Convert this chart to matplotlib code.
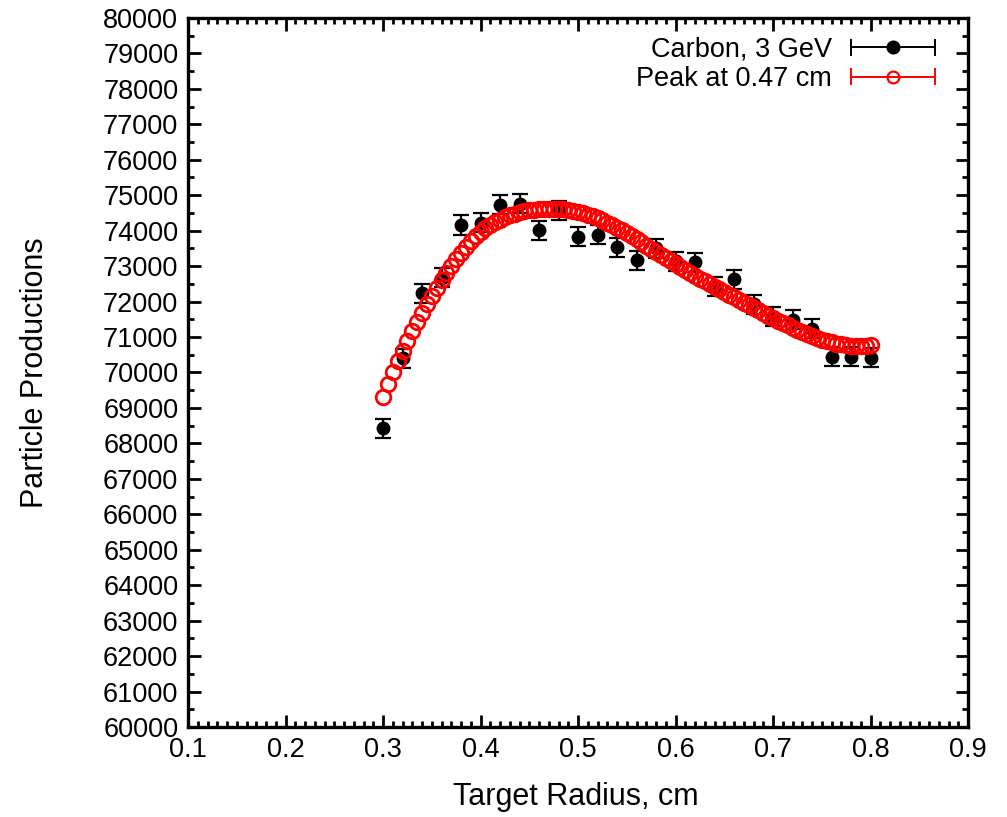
import numpy as np
import matplotlib
matplotlib.use("Agg")
import matplotlib.pyplot as plt
from matplotlib.lines import Line2D
from matplotlib.legend_handler import HandlerBase
from matplotlib.ticker import MultipleLocator

# measured points, Carbon 3 GeV
radius = [0.30, 0.32, 0.34, 0.36, 0.38, 0.40, 0.42, 0.44, 0.46, 0.48, 0.50, 0.52, 0.54,
          0.56, 0.58, 0.60, 0.62, 0.64, 0.66, 0.68, 0.70, 0.72, 0.74, 0.76, 0.78, 0.80]
production = [68430, 70400, 72230, 72670, 74160, 74230, 74730, 74760, 74010, 74580, 73830,
              73880, 73530, 73160, 73500, 73140, 73110, 72420, 72630, 71920, 71570, 71490,
              71240, 70450, 70440, 70420]
production_err = [270] * len(radius)

# fitted curve
fit_x = np.linspace(0.30, 0.80, 101)
fit_y = [69300, 69670, 70020, 70320, 70610, 70890, 71160, 71420, 71680, 71920,
         72150, 72380, 72600, 72810, 73010, 73200, 73380, 73550, 73710, 73850,
         73970, 74070, 74160, 74240, 74310, 74375, 74430, 74475, 74515, 74550,
         74575, 74595, 74610, 74620, 74625, 74625, 74620, 74605, 74585, 74560,
         74530, 74495, 74455, 74410, 74355, 74295, 74230, 74160, 74085, 74005,
         73925, 73840, 73755, 73670, 73580, 73490, 73400, 73310, 73225, 73140,
         73055, 72970, 72885, 72800, 72720, 72645, 72570, 72495, 72420, 72345,
         72270, 72195, 72120, 72045, 71970, 71895, 71825, 71750, 71675, 71600,
         71530, 71460, 71390, 71325, 71260, 71195, 71135, 71075, 71020, 70970,
         70925, 70885, 70850, 70815, 70790, 70770, 70755, 70745, 70745, 70755,
         70770]

labels = ["Carbon, 3 GeV", "Peak at 0.47 cm"]

plt.rcParams["font.family"] = ["Liberation Sans", "DejaVu Sans"]


class ErrKeyHandler(HandlerBase):
    """gnuplot-like key sample: horizontal bar with end caps and a marker."""
    def __init__(self, color, mfc):
        super().__init__()
        self.color = color
        self.mfc = mfc

    def create_artists(self, legend, orig_handle, xdescent, ydescent,
                       width, height, fontsize, trans):
        yc = height / 2 - ydescent
        x0, x1 = -xdescent, width - xdescent
        cap = height * 0.4
        arts = [
            Line2D([x0, x1], [yc, yc], color=self.color, lw=1.4),
            Line2D([x0, x0], [yc - cap, yc + cap], color=self.color, lw=1.4),
            Line2D([x1, x1], [yc - cap, yc + cap], color=self.color, lw=1.4),
            Line2D([(x0 + x1) / 2], [yc], marker="o", ms=8.5, color=self.color,
                   mfc=self.mfc, mew=1.6, ls="none"),
        ]
        for a in arts:
            a.set_transform(trans)
        return arts


fig = plt.figure(figsize=(10.07, 8.17), dpi=100)
ax = fig.add_axes([0.1867, 0.1102, 0.7746, 0.8678])

ax.errorbar(radius, production, yerr=production_err, fmt="o", color="black",
            ms=9, elinewidth=1.6, capsize=5.5, capthick=1.6, zorder=2)
ax.plot(fit_x, fit_y, "o", color="red", mfc="none", ms=10.5, mew=2.0, zorder=3)

ax.set_xlim(0.1, 0.9)
ax.set_ylim(60000, 80000)
ax.xaxis.set_major_locator(MultipleLocator(0.1))
ax.xaxis.set_minor_locator(MultipleLocator(0.01))
ax.yaxis.set_major_locator(MultipleLocator(1000))
ax.yaxis.set_minor_locator(MultipleLocator(500))
ax.set_xticklabels([f"{v:.1f}" for v in ax.get_xticks()])
ax.tick_params(which="both", direction="in", top=True, right=True, width=2)
ax.tick_params(which="major", length=9, labelsize=19.5, pad=7)
ax.tick_params(which="minor", length=4.5)
for s in ax.spines.values():
    s.set_linewidth(2.4)

ax.set_xlabel("Target Radius, cm", fontsize=22, va="center")
ax.xaxis.set_label_coords(0.497, -0.099)
ax.set_ylabel("Particle Productions", fontsize=22, va="center")
ax.yaxis.set_label_coords(-0.196, 0.5)

h1 = Line2D([], [], color="black")
h2 = Line2D([], [], color="red")
ax.legend([h1, h2], labels, loc="upper right", frameon=False, markerfirst=False,
          fontsize=19.5, handlelength=3.1, handletextpad=0.7, labelspacing=0.12,
          borderaxespad=0.3, bbox_to_anchor=(0.982, 1.0),
          handler_map={h1: ErrKeyHandler("black", "black"),
                       h2: ErrKeyHandler("red", "none")})

fig.savefig("out.png", dpi=100)
